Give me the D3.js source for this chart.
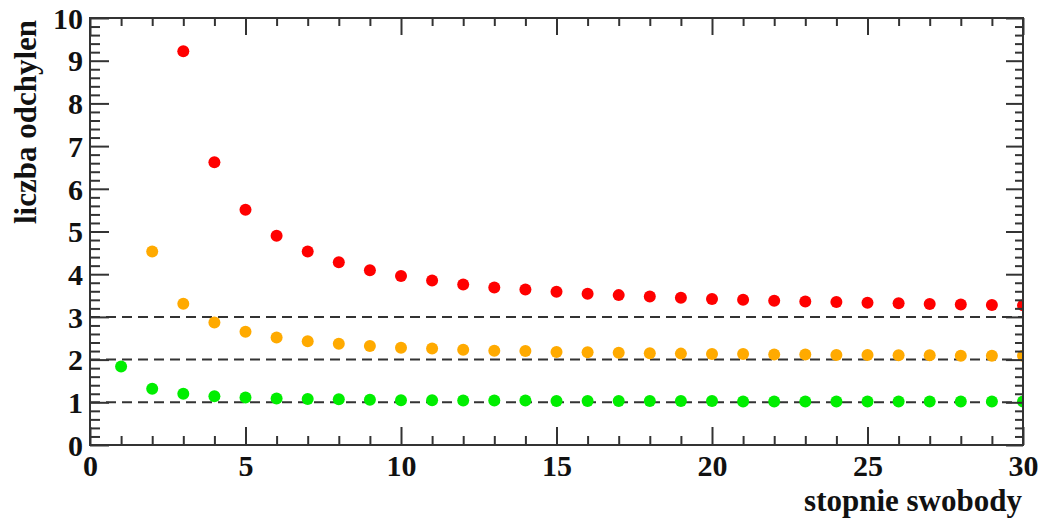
<!DOCTYPE html>
<html>
<head>
<meta charset="utf-8">
<script src="https://cdn.jsdelivr.net/npm/d3@7"></script>
<style>
  html, body { margin: 0; padding: 0; background: #fff; }
  svg { display: block; }
  text { font-family: "Liberation Serif", "DejaVu Serif", serif; font-weight: bold; fill: #111; }
</style>
</head>
<body>
<svg id="chart" width="1047" height="518"></svg>
<script>
// ---- data ----
const redDof = [3,4,5,6,7,8,9,10,11,12,13,14,15,16,17,18,19,20,21,22,23,24,25,26,27,28,29,30];
const redVals = [9.22,6.62,5.51,4.90,4.53,4.28,4.09,3.96,3.85,3.76,3.69,3.64,3.59,3.54,3.51,3.48,3.45,3.42,3.40,3.38,3.36,3.35,3.33,3.32,3.30,3.29,3.28,3.27];
const orangeDof = [2,3,4,5,6,7,8,9,10,11,12,13,14,15,16,17,18,19,20,21,22,23,24,25,26,27,28,29,30];
const orangeVals = [4.53,3.31,2.87,2.65,2.52,2.43,2.37,2.32,2.28,2.26,2.23,2.21,2.20,2.18,2.17,2.16,2.15,2.14,2.13,2.13,2.12,2.12,2.11,2.11,2.10,2.10,2.09,2.09,2.09];
const greenDof = [1,2,3,4,5,6,7,8,9,10,11,12,13,14,15,16,17,18,19,20,21,22,23,24,25,26,27,28,29,30];
const greenVals = [1.84,1.32,1.20,1.14,1.11,1.09,1.08,1.07,1.06,1.05,1.05,1.04,1.04,1.04,1.03,1.03,1.03,1.03,1.03,1.03,1.02,1.02,1.02,1.02,1.02,1.02,1.02,1.02,1.02,1.02];
const refLevels = [1, 2, 3];
const xTicks = [0, 5, 10, 15, 20, 25, 30];
const yTicks = [0,1,2,3,4,5,6,7,8,9,10];
const xTitle = "stopnie swobody";
const yTitle = "liczba odchylen";

const series = [
  { dof: redDof, vals: redVals, color: "#ff0000" },
  { dof: orangeDof, vals: orangeVals, color: "#ffaa00" },
  { dof: greenDof, vals: greenVals, color: "#00ee00" }
];

// ---- layout ----
const L = 90, R = 1023, T = 18, B = 445;
const svg = d3.select("#chart");
const x = d3.scaleLinear().domain([0, 30]).range([L, R]);
const y = d3.scaleLinear().domain([0, 10]).range([B, T]);

svg.append("defs").append("clipPath").attr("id", "clip")
  .append("rect").attr("x", L).attr("y", T).attr("width", R - L).attr("height", B - T);

const axisColor = "#333";

// reference dashed lines
svg.append("g").selectAll("line").data(refLevels).join("line")
  .attr("x1", L).attr("x2", R)
  .attr("y1", d => y(d)).attr("y2", d => y(d))
  .attr("stroke", axisColor).attr("stroke-width", 2)
  .attr("stroke-dasharray", "10,6");

// points
const pts = svg.append("g").attr("clip-path", "url(#clip)");
series.forEach(s => {
  pts.append("g").selectAll("circle").data(s.dof.map((d, i) => [d, s.vals[i]])).join("circle")
    .attr("cx", d => x(d[0])).attr("cy", d => y(d[1]))
    .attr("r", 6).attr("fill", s.color);
});

// axes: major + minor ticks, inward
function styleAxis(g) {
  g.select(".domain").remove();
  g.selectAll("line").attr("stroke", axisColor).attr("stroke-width", 2);
}
function styleLabels(g) {
  g.selectAll("text").attr("font-size", 30)
    .attr("font-family", "Liberation Serif").attr("font-weight", "bold").attr("fill", "#111");
}
const xMinor = d3.range(0, 31, 1).filter(v => v % 5 !== 0);
const yMinor = d3.range(0, 50, 1).map(v => v / 5).filter(v => Math.abs(v - Math.round(v)) > 1e-6);

// bottom
svg.append("g").attr("transform", `translate(0,${B})`)
  .call(d3.axisBottom(x).tickValues(xTicks).tickSize(-18).tickFormat(d3.format("d")))
  .call(styleAxis).call(styleLabels)
  .call(g => g.selectAll("text").attr("y", 31).attr("dy", null));
svg.append("g").attr("transform", `translate(0,${B})`)
  .call(d3.axisBottom(x).tickValues(xMinor).tickSize(-9).tickFormat(""))
  .call(styleAxis);
// top
svg.append("g").attr("transform", `translate(0,${T})`)
  .call(d3.axisTop(x).tickValues(xTicks).tickSize(-17).tickFormat(""))
  .call(styleAxis);
svg.append("g").attr("transform", `translate(0,${T})`)
  .call(d3.axisTop(x).tickValues(xMinor).tickSize(-8).tickFormat(""))
  .call(styleAxis);
// left
svg.append("g").attr("transform", `translate(${L},0)`)
  .call(d3.axisLeft(y).tickValues(yTicks).tickSize(-19).tickFormat(d3.format("d")))
  .call(styleAxis).call(styleLabels)
  .call(g => g.selectAll("text").attr("x", -7).attr("dy", "0.34em"));
svg.append("g").attr("transform", `translate(${L},0)`)
  .call(d3.axisLeft(y).tickValues(yMinor).tickSize(-10).tickFormat(""))
  .call(styleAxis);
// right
svg.append("g").attr("transform", `translate(${R},0)`)
  .call(d3.axisRight(y).tickValues(yTicks).tickSize(-17).tickFormat(""))
  .call(styleAxis);
svg.append("g").attr("transform", `translate(${R},0)`)
  .call(d3.axisRight(y).tickValues(yMinor).tickSize(-8).tickFormat(""))
  .call(styleAxis);

// frame
svg.append("rect").attr("x", L).attr("y", T).attr("width", R - L).attr("height", B - T)
  .attr("fill", "none").attr("stroke", axisColor).attr("stroke-width", 2);

// titles
svg.append("text").attr("x", R - 1).attr("y", 511).attr("text-anchor", "end")
  .attr("font-size", 31).text(xTitle);
svg.append("text").attr("transform", `translate(36,${T + 2}) rotate(-90)`)
  .attr("text-anchor", "end").attr("font-size", 31).text(yTitle);
</script>
</body>
</html>
